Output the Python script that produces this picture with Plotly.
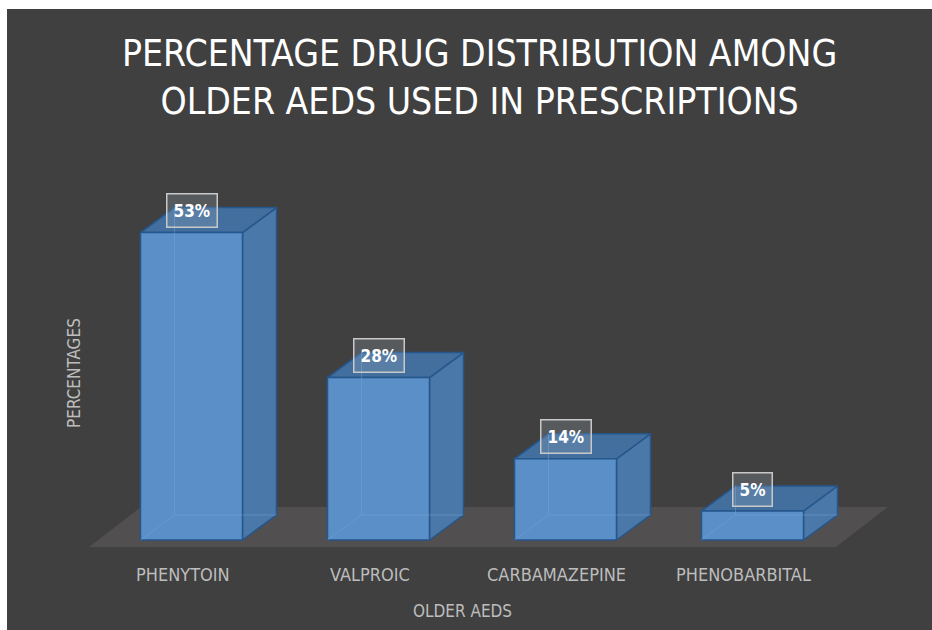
import plotly.graph_objects as go

# ---------------- data ----------------
categories = ["PHENYTOIN", "VALPROIC", "CARBAMAZEPINE", "PHENOBARBITAL"]
values = [53, 28, 14, 5]
value_labels = ["53%", "28%", "14%", "5%"]
title_text = "PERCENTAGE DRUG DISTRIBUTION AMONG<br>OLDER AEDS USED IN PRESCRIPTIONS"
x_title = "OLDER AEDS"
y_title = "PERCENTAGES"

# ---------------- layout constants ----------------
W, H = 932, 630
L, T = 7, 9                      # white border (left, top)
PX0, PXS = 191.5, 187.0          # pixel of first category, spacing per category
PY0, PYS = 540.0, 5.8            # pixel of value 0, pixels per percent


def xr(px):
    return (px - PX0) / PXS


def yv(py):
    return (PY0 - py) / PYS


HW = 51 / PXS        # half width of bar front
DX = 34 / PXS        # depth offset x
DY = 25 / PYS        # depth offset y
FLOOR_FRONT = -7 / PYS
FLOOR_DX = 52 / PXS
FLOOR_DY = 40 / PYS

FONT = "Liberation Sans Narrow, DejaVu Sans Condensed, Arial Narrow, sans-serif"
FRONT = "#5a8fc7"
SIDE = "#4a78a8"
TOP = "#426f9e"
EDGE = "#25568c"
FLOOR = "#524f50"
LABEL_GRAY = "#bdbdbd"

fig = go.Figure()


def poly(xs, ys, fill, line=EDGE, width=1.5):
    fig.add_trace(go.Scatter(
        x=xs + [xs[0]], y=ys + [ys[0]], mode="lines", fill="toself",
        fillcolor=fill, line=dict(color=line, width=width),
        hoverinfo="skip", showlegend=False))


# floor
n = len(categories)
fx0 = -0.5 - 0.048
fx1 = (n - 1) + 0.5 - 0.054
poly([fx0, fx1, fx1 + FLOOR_DX, fx0 + FLOOR_DX],
     [FLOOR_FRONT, FLOOR_FRONT, FLOOR_FRONT + FLOOR_DY, FLOOR_FRONT + FLOOR_DY],
     FLOOR, line=FLOOR, width=0)

# bars
for i, v in enumerate(values):
    x0, x1 = i - HW, i + HW
    # side face
    poly([x1, x1 + DX, x1 + DX, x1], [0, DY, v + DY, v], SIDE)
    # top face
    poly([x0, x1, x1 + DX, x0 + DX], [v, v, v + DY, v + DY], TOP)
    # front face
    poly([x0, x1, x1, x0], [0, 0, v, v], FRONT)
    # faint hidden edges seen through the front
    fig.add_trace(go.Scatter(
        x=[x0, x0 + DX, x0 + DX, None, x0 + DX, x1 + DX],
        y=[0, DY, v + DY, None, DY, DY],
        mode="lines", line=dict(color="rgba(120,165,215,0.45)", width=1),
        hoverinfo="skip", showlegend=False))

annotations = []
# value labels
for i, (v, lab) in enumerate(zip(values, value_labels)):
    annotations.append(dict(
        x=i, y=v + 22 / PYS, xref="x", yref="y", text="<b>%s</b>" % lab,
        showarrow=False, font=dict(family=FONT, size=17, color="white"),
        bgcolor="rgba(170,180,195,0.22)", bordercolor="#c8c8c8",
        borderwidth=1.5, borderpad=6, xanchor="center", yanchor="middle"))

# category labels
for i, c in enumerate(categories):
    annotations.append(dict(
        x=i - 9 / PXS, y=yv(574), xref="x", yref="y", text=c,
        showarrow=False, font=dict(family=FONT, size=18, color=LABEL_GRAY),
        xanchor="center", yanchor="middle"))

# axis titles
annotations.append(dict(
    x=xr(462), y=yv(611), xref="x", yref="y", text=x_title, showarrow=False,
    font=dict(family=FONT, size=17, color=LABEL_GRAY),
    xanchor="center", yanchor="middle"))
annotations.append(dict(
    x=xr(74), y=yv(373), xref="x", yref="y", text=y_title, showarrow=False,
    textangle=-90, font=dict(family=FONT, size=17, color=LABEL_GRAY),
    xanchor="center", yanchor="middle"))

# title
annotations.append(dict(
    x=xr(479), y=yv(77), xref="x", yref="y", text=title_text, showarrow=False,
    font=dict(family=FONT, size=37, color="white"),
    xanchor="center", yanchor="middle"))

fig.update_layout(
    width=W, height=H,
    margin=dict(l=L, t=T, r=0, b=0, pad=0),
    paper_bgcolor="white", plot_bgcolor="#404040",
    xaxis=dict(range=[xr(L), xr(W)], visible=False, fixedrange=True),
    yaxis=dict(range=[yv(H), yv(T)], visible=False, fixedrange=True),
    annotations=annotations,
    showlegend=False,
)

fig.write_html("out.html")
